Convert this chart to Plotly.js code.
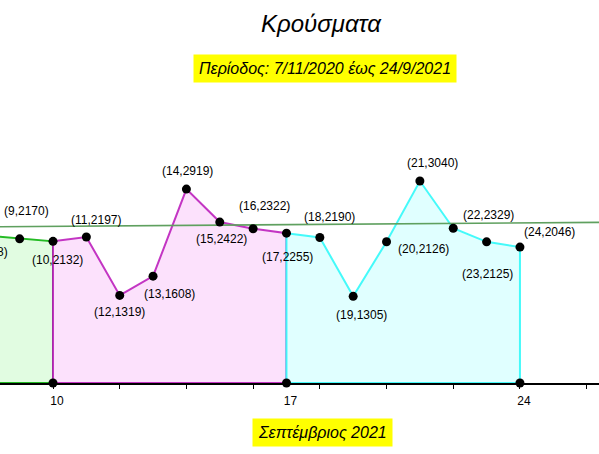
<!DOCTYPE html>
<html>
<head>
<meta charset="utf-8">
<script src="https://cdn.plot.ly/plotly-3.0.1.min.js"></script>
<style>html,body{margin:0;padding:0;background:#fff;}#chart{width:599px;height:454px;}</style>
</head>
<body>
<div id="chart"></div>
<script>
// ---- data ----
const days  = [8, 9, 10, 11, 12, 13, 14, 15, 16, 17, 18, 19, 20, 21, 22, 23, 24];
const cases = [2218, 2170, 2132, 2197, 1319, 1608, 2919, 2422, 2322, 2255, 2190, 1305, 2126, 3040, 2329, 2125, 2046];
const weekStarts = [8, 10, 17];
const weekEnds   = [10, 17, 24];
const trendX = [8, 27];
const trendY = [2350, 2420];
const tickDays = [8, 10, 12, 14, 16, 18, 20, 22, 24, 26];
const labelDays = [10, 17, 24];
const labelText = ['10', '17', '24'];
const chartTitle = 'Κρούσματα';
const subTitle = 'Περίοδος: 7/11/2020 έως 24/9/2021';
const axisTitle = 'Σεπτέμβριος 2021';

// ---- styles ----
const xRange = [8.411, 26.37];
const yRange = [-1068, 5764];
const weekLine = ['rgba(0,175,0,0.85)', 'rgba(185,20,185,0.85)', 'rgba(50,250,250,0.9)'];
const weekFill = ['rgba(225,252,225,1)', 'rgba(252,225,252,1)', 'rgba(224,255,255,1)'];
// label offsets in px (dx right, dy down) per day
const labelOffsets = {
  8: [-1, 16], 9: [7, -28], 10: [4, 19], 11: [10, -17], 12: [0, 17], 13: [16, 18],
  14: [1, -18], 15: [2, 17], 16: [11, -23], 17: [1, 24], 18: [10, -21], 19: [8, 19],
  20: [37, 7], 21: [13, -18], 22: [35, -13], 23: [1, 32], 24: [30, -15]
};

const traces = [];
weekStarts.forEach((s, i) => {
  const e = weekEnds[i];
  const xs = [], ys = [];
  days.forEach((d, k) => { if (d >= s && d <= e) { xs.push(d); ys.push(cases[k]); } });
  xs.push(e, s, s); ys.push(0, 0, ys[0]);
  traces.push({
    x: xs, y: ys, type: 'scatter', mode: 'lines', fill: 'toself',
    fillcolor: weekFill[i], line: {color: weekLine[i], width: 2},
    hoverinfo: 'skip', showlegend: false
  });
});
traces.push({
  x: trendX, y: trendY, type: 'scatter', mode: 'lines',
  line: {color: 'rgb(95,160,95)', width: 1.6}, hoverinfo: 'skip', showlegend: false
});
traces.push({
  x: days.concat(labelDays), y: cases.concat(labelDays.map(() => 0)),
  type: 'scatter', mode: 'markers',
  marker: {color: '#000', size: 9}, showlegend: false
});
traces.push({x: labelDays, y: labelDays.map(() => 0), xaxis: 'x2', type: 'scatter', mode: 'markers',
  marker: {opacity: 0}, hoverinfo: 'skip', showlegend: false});

const xPx = (xRange[1] - xRange[0]) / 599;
const annotations = days.map((d, k) => {
  const off = labelOffsets[d] || [0, 0];
  const ax = Math.max(d, xRange[0]);
  return {
    x: ax, y: cases[k], xref: 'x', yref: 'y', showarrow: false,
    text: '(' + d + ',' + cases[k] + ')',
    xshift: off[0] - (ax - d) / xPx, yshift: -off[1],
    font: {family: 'Liberation Sans, Arial, sans-serif', size: 12, color: '#000'}
  };
});
annotations.push({
  text: chartTitle, xref: 'paper', yref: 'paper', x: 0.536, y: 1 - 24 / 454,
  xanchor: 'center', yanchor: 'middle', showarrow: false,
  font: {family: 'Liberation Sans, Arial, sans-serif', size: 24, color: '#000', style: 'italic'}
});
annotations.push({
  text: subTitle, xref: 'paper', yref: 'paper', x: 324.5 / 599, y: 1 - 68 / 454,
  xanchor: 'center', yanchor: 'middle', showarrow: false, bgcolor: '#ffff00', borderpad: 5,
  font: {family: 'Liberation Sans, Arial, sans-serif', size: 16, color: '#000', style: 'italic'}
});
annotations.push({
  text: axisTitle, xref: 'paper', yref: 'paper', x: 322 / 599, y: 1 - 432.5 / 454,
  xanchor: 'center', yanchor: 'middle', showarrow: false, bgcolor: '#ffff00', borderpad: 5,
  font: {family: 'Liberation Sans, Arial, sans-serif', size: 16, color: '#000', style: 'italic'}
});

const zeroPos = (0 - yRange[0]) / (yRange[1] - yRange[0]);
const layout = {
  width: 599, height: 454,
  margin: {l: 0, r: 0, t: 0, b: 0, pad: 0},
  paper_bgcolor: '#fff', plot_bgcolor: '#fff',
  showlegend: false,
  xaxis: {
    range: xRange, anchor: 'free', position: zeroPos, showgrid: false, zeroline: false,
    showline: true, linecolor: '#000', linewidth: 1.5,
    tickmode: 'array', tickvals: tickDays, ticks: 'outside', ticklen: 4, tickcolor: '#000',
    showticklabels: false, fixedrange: true
  },
  xaxis2: {
    range: xRange, overlaying: 'x', matches: 'x', anchor: 'free', position: zeroPos,
    showgrid: false, zeroline: false, showline: false,
    tickmode: 'array', tickvals: labelDays, ticktext: labelText, ticks: '',
    ticklabelstandoff: 9, ticklabelshift: 4,
    tickfont: {family: 'Liberation Sans, Arial, sans-serif', size: 12, color: '#000'}
  },
  yaxis: {range: yRange, visible: false, showgrid: false, zeroline: false, fixedrange: true},
  annotations: annotations
};
Plotly.newPlot('chart', traces, layout, {displayModeBar: false, staticPlot: true});
</script>
</body>
</html>
